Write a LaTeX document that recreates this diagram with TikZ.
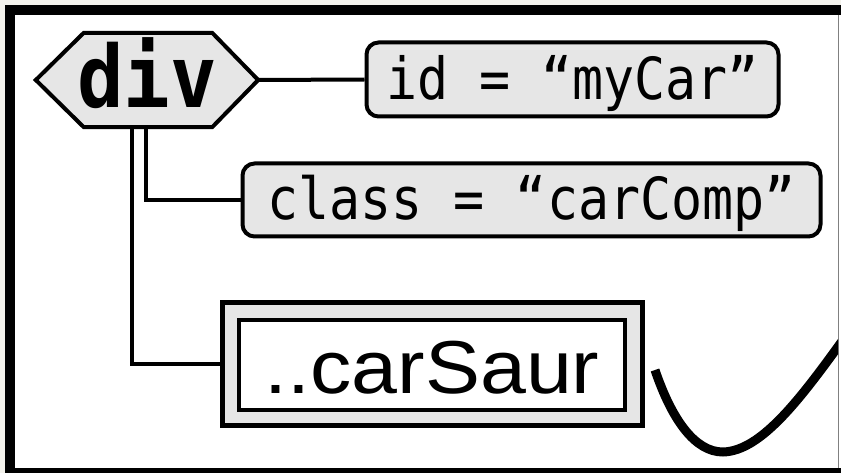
\documentclass[tikz,border=0pt]{standalone}
\usepackage{fontspec}
\usepackage{graphicx}
\newfontfamily\dmono{DejaVu Sans Mono}
\newfontfamily\lsans{Liberation Sans}
\usetikzlibrary{calc}
\definecolor{boxgray}{HTML}{E6E6E6}
\definecolor{bgout}{HTML}{F3F2EC}
\tikzset{
  conn/.style={line width=4pt, line join=miter},
  attrbox/.style={rectangle, rounded corners=12pt, draw=black, line width=4pt, fill=boxgray,
    inner sep=0pt, font=\dmono\fontsize{58}{60}\selectfont},
  hexbox/.style={rectangle, inner sep=0pt, minimum width=222pt, minimum height=94pt,
    font=\dmono\bfseries\fontsize{86}{90}\selectfont, text height=65pt, text depth=9pt},
  outerbox/.style={rectangle, draw=black, line width=5pt, fill=boxgray, inner sep=0pt},
  innerbox/.style={rectangle, draw=black, line width=4pt, fill=white, inner sep=0pt,
    font=\lsans\fontsize{75}{80}\selectfont, text height=60pt, text depth=4pt},
}
\begin{document}
\begin{tikzpicture}[x=1pt,y=-1pt]
\useasboundingbox (0,0) rectangle (841,473);
% frame
\fill[bgout] (0,0) rectangle (841,473);
\fill[black] (5,5) rectangle (841,473);
\fill[white] (15,15) rectangle (841,468);
\draw[gray, line width=1pt] (838.5,15) -- (838.5,468);

% div hexagon
\node[hexbox] (div) at (147,80) {\scalebox{0.9}[1]{div}};
\draw[fill=boxgray, draw=black, line width=4pt, line join=miter]
  (div.west) -- ([xshift=48pt]div.north west) -- ([xshift=-46pt]div.north east)
  -- (div.east) -- ([xshift=-46pt]div.south east) -- ([xshift=48pt]div.south west) -- cycle;
\node[hexbox] at (div.center) {\scalebox{0.9}[1]{div}};

% attribute boxes
\node[attrbox, minimum width=412pt, minimum height=74pt, text height=44pt, text depth=3pt]
  (id) at (572.5,79.5) {\scalebox{0.89}[1]{id = “myCar”}};
\node[attrbox, minimum width=578pt, minimum height=73pt, text height=44pt, text depth=4pt]
  (class) at (531.5,200) {\scalebox{0.89}[1]{class = “carComp”}};

% child box
\node[outerbox, minimum width=420pt, minimum height=123pt] (saur) at (432.5,364) {};
\node[innerbox, minimum width=386pt, minimum height=90pt] (saurin) at (432,365)
  {\scalebox{1.1}[1]{..carSaur}};

% connectors
\draw[conn] (div.east) -- (id.west);
\draw[conn] ([xshift=-1pt]div.south) |- (class.west);
\draw[conn] ([xshift=-15pt]div.south) |- ([xshift=5pt]saur.west);

% curve
\begin{scope}
\clip (15,15) rectangle (838,468);
\draw[line width=9pt]
  (655,370) .. controls (672,420) and (695,452) .. (723,452)
  .. controls (762,451) and (802,397) .. (850,330);
\end{scope}
\end{tikzpicture}
\end{document}
